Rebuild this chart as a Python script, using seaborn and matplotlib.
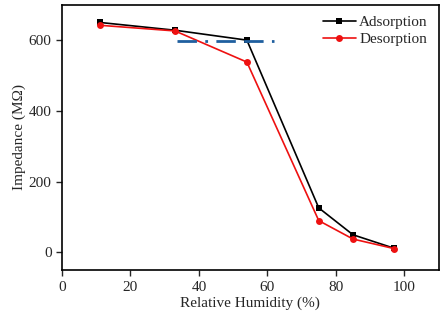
import matplotlib
matplotlib.use("Agg")
import matplotlib.pyplot as plt
import seaborn as sns
import pandas as pd

rh = [11, 33, 54, 75, 85, 97]
adsorption = [650, 628, 600, 126, 50, 12]
desorption = [642, 626, 538, 90, 38, 11]
ref_x = [33.5, 62]
ref_y = [597, 597]

sns.set_theme(style="ticks")
plt.rcParams['font.family'] = ['Liberation Serif', 'DejaVu Serif']

df = pd.DataFrame({"RH": rh + rh,
                   "Z": adsorption + desorption,
                   "kind": ["Adsorption"] * len(rh) + ["Desorption"] * len(rh)})

fig, ax = plt.subplots(figsize=(4.43, 3.16), dpi=100)
fig.subplots_adjust(left=0.14, right=0.99, bottom=0.145, top=0.985)

sns.lineplot(data=df, x="RH", y="Z", hue="kind", style="kind",
             palette={"Adsorption": "black", "Desorption": "#ee1111"},
             markers={"Adsorption": "s", "Desorption": "o"},
             dashes=False, markersize=5, linewidth=1.2,
             markeredgewidth=0, ax=ax)
ax.plot(ref_x, ref_y, color="#1f5f9f", linewidth=2, dashes=[7, 3, 1, 3, 7, 3])

ax.set_xlim(0, 110)
ax.set_ylim(-50, 700)
ax.set_xticks([0, 20, 40, 60, 80, 100])
ax.set_yticks([0, 200, 400, 600])
ax.set_xlabel("Relative Humidity (%)", fontsize=11, labelpad=2)
ax.set_ylabel("Impedance (MΩ)", fontsize=11, labelpad=2)
ax.tick_params(labelsize=11, direction="out", length=4, width=1)
for s in ax.spines.values():
    s.set_linewidth(1.2)
    s.set_color("black")

leg = ax.legend(loc="upper right", frameon=False, fontsize=11,
                handlelength=2.2, handletextpad=0.2, borderaxespad=0.3,
                labelspacing=0.2)
plt.savefig("out.png", dpi=100)
